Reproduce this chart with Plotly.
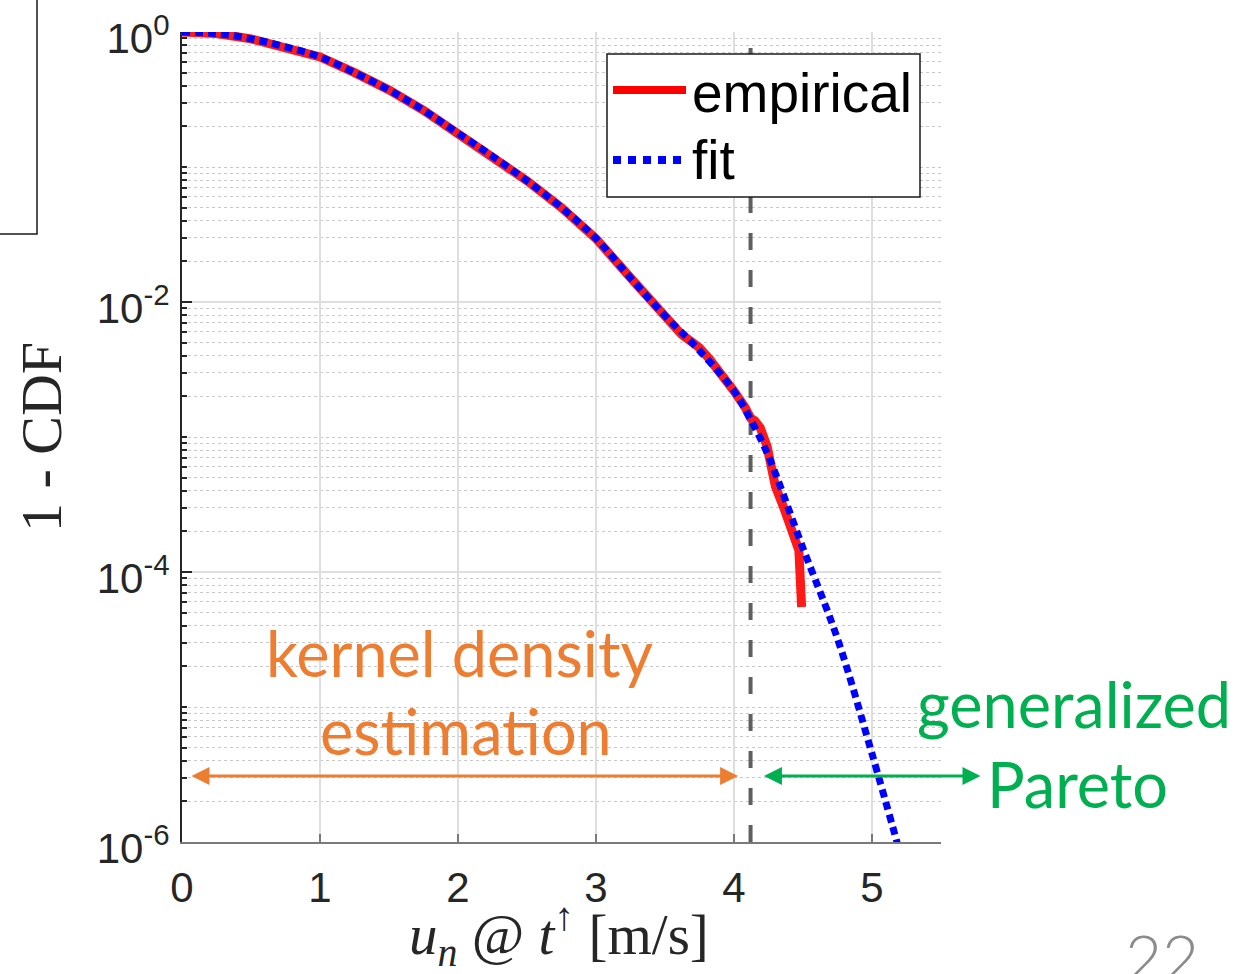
import numpy as np
import plotly.graph_objects as go

# ---- data -------------------------------------------------------------
# empirical survival function 1 - CDF of u_n at t-up
emp_x = [0.0, 0.25, 0.5, 0.75, 1.0, 1.25, 1.5, 1.75, 2.0, 2.25, 2.5, 2.75,
         3.0, 3.25, 3.5, 3.62, 3.7, 3.75, 3.82, 3.9, 4.0, 4.08, 4.12, 4.15,
         4.19, 4.24, 4.26, 4.30, 4.36, 4.43, 4.45, 4.47, 4.49]
emp_y = [1.0, 0.973, 0.89, 0.776, 0.653, 0.50, 0.372, 0.263, 0.178, 0.120,
         0.079, 0.050, 0.0295, 0.0151, 0.0079, 0.00575, 0.00501, 0.00457,
         0.0038, 0.00302, 0.00219, 0.00166, 0.00138, 0.00132, 0.00117,
         8.5e-4, 6.8e-4, 4.3e-4, 3.0e-4, 1.95e-4, 1.58e-4, 1.45e-4, 5.5e-5]

# fitted model: kernel density body + generalized Pareto tail
fit_x = [0.0, 0.25, 0.5, 0.75, 1.0, 1.25, 1.5, 1.75, 2.0, 2.25, 2.5, 2.75,
         3.0, 3.25, 3.5, 3.75, 4.0, 4.12, 4.25, 4.5, 4.75, 5.0, 5.2]
fit_y = [1.0, 0.973, 0.89, 0.776, 0.653, 0.50, 0.372, 0.263, 0.178, 0.120,
         0.079, 0.050, 0.0295, 0.0151, 0.0079, 0.00437, 0.00219, 0.00135,
         7.2e-4, 1.5e-4, 3.2e-5, 4.5e-6, 8.5e-7]

threshold_x = 4.12            # body / tail split
x_ticks = [0, 1, 2, 3, 4, 5]
y_ticks = [1e0, 1e-2, 1e-4, 1e-6]
y_tick_text = ["10<sup>0</sup>", "10<sup>-2</sup>", "10<sup>-4</sup>", "10<sup>-6</sup>"]
y_minor = [k * 10.0 ** d for d in range(-6, 0) for k in range(1, 10)
           if not (k == 1 and d % 2 == 0)]

kde_span = [0.058, 4.03]      # extent of the kernel density region arrow
gpd_span = [4.217, 5.797]     # extent of the generalized Pareto arrow
arrow_level = 3.08e-6

# ---- layout geometry ---------------------------------------------------
W, H = 1251, 974
ML, MR, MT, MB = 182, 310, 32, 132
X_RANGE = [0, 5.5]
Y_RANGE = [-6, 0]
PW, PH = W - ML - MR, H - MT - MB

ORANGE = "#ED7D31"
GREEN = "#00B050"
TICK_FONT = dict(family="Liberation Sans, Arial", size=42, color="#262626")
SERIF = "Liberation Serif, DejaVu Serif"


def px_to_paper_x(px):
    return (px - ML) / PW


def px_to_paper_y(py):
    return (H - MB - py) / PH


def py_to_log(py):
    return Y_RANGE[1] - (py - MT) / PH * (Y_RANGE[1] - Y_RANGE[0])


fig = go.Figure()

fig.add_trace(go.Scatter(
    x=[threshold_x, threshold_x], y=[1e-6, 1e0], mode="lines",
    line=dict(color="#5f5f5f", width=4, dash="17px,20px"),
    showlegend=False, hoverinfo="skip"))

fig.add_trace(go.Scatter(
    x=emp_x, y=emp_y, mode="lines", name="empirical",
    line=dict(color="#ff1a1a", width=9), showlegend=False))

fig.add_trace(go.Scatter(
    x=fit_x, y=fit_y, mode="lines", name="fit",
    line=dict(color="#0000ff", width=7, dash="8px,5px", shape="spline"),
    showlegend=False))

fig.update_xaxes(
    range=X_RANGE, tickvals=x_ticks, ticks="inside", ticklen=8, tickwidth=1.5,
    tickcolor="#7a7a7a", showline=True, linecolor="#7a7a7a", linewidth=2,
    showgrid=True, gridcolor="#dedede", gridwidth=1.5, zeroline=False,
    tickfont=TICK_FONT, ticklabelstandoff=8, automargin=False)

fig.update_yaxes(
    type="log", range=Y_RANGE, tickvals=y_ticks, ticktext=y_tick_text,
    ticks="inside", ticklen=10, tickwidth=1.5, tickcolor="#262626",
    showline=True, linecolor="#262626", linewidth=2,
    showgrid=True, gridcolor="#dedede", gridwidth=1.5, zeroline=False,
    tickfont=TICK_FONT, ticklabelstandoff=2, ticklabelshift=6, automargin=False,
    minor=dict(tickvals=y_minor, ticks="inside", ticklen=5, tickcolor="#262626",
               showgrid=True, griddash="dot", gridcolor="#c8c8c8", gridwidth=1),
    title=dict(text="1 - CDF", font=dict(family=SERIF, size=58, color="#262626"),
               standoff=16))

# ---- hand-built legend ------------------------------------------------
shapes = [
    dict(type="rect", xref="paper", yref="paper",
         x0=px_to_paper_x(607), x1=px_to_paper_x(920),
         y0=px_to_paper_y(197), y1=px_to_paper_y(54),
         line=dict(color="#1a1a1a", width=1.5), fillcolor="white", layer="above"),
    dict(type="line", xref="paper", yref="paper",
         x0=px_to_paper_x(613), x1=px_to_paper_x(686),
         y0=px_to_paper_y(90), y1=px_to_paper_y(90),
         line=dict(color="#ff0000", width=8), layer="above"),
    dict(type="line", xref="paper", yref="paper",
         x0=px_to_paper_x(613), x1=px_to_paper_x(686),
         y0=px_to_paper_y(160), y1=px_to_paper_y(160),
         line=dict(color="#0000ff", width=8, dash="8px,7px"), layer="above"),
    # edge of a neighbouring panel frame
    dict(type="path", xref="paper", yref="paper",
         path=f"M {px_to_paper_x(-5)},{px_to_paper_y(234)} L {px_to_paper_x(37)},{px_to_paper_y(234)} "
              f"L {px_to_paper_x(37)},{px_to_paper_y(-5)}",
         line=dict(color="#1a1a1a", width=1.5), layer="above"),
]

LEG_FONT = dict(family="Liberation Sans, Arial", size=55, color="#000000")
annotations = [
    dict(text="empirical", xref="paper", yref="paper", x=px_to_paper_x(690),
         y=px_to_paper_y(93), xanchor="left", yanchor="middle", showarrow=False, font=LEG_FONT),
    dict(text="fit", xref="paper", yref="paper", x=px_to_paper_x(690),
         y=px_to_paper_y(160), xanchor="left", yanchor="middle", showarrow=False, font=LEG_FONT),
    # x-axis title
    dict(text="<i>u<sub>n</sub></i> @ <i>t</i><sup>↑</sup> [m/s]", xref="paper", yref="paper",
         x=px_to_paper_x(559), y=px_to_paper_y(935), xanchor="center", yanchor="middle",
         showarrow=False, font=dict(family=SERIF, size=57, color="#262626")),
]

# ---- region labels and arrows -----------------------------------------
LBL = dict(family="Lato, Noto Sans", size=63)
annotations += [
    dict(text="kernel density", x=2.014, y=py_to_log(652), xref="x", yref="y",
         xanchor="center", yanchor="middle", showarrow=False, font=dict(**LBL, color=ORANGE)),
    dict(text="estimation", x=2.06, y=py_to_log(730), xref="x", yref="y",
         xanchor="center", yanchor="middle", showarrow=False, font=dict(**LBL, color=ORANGE)),
    dict(text="generalized", xref="paper", yref="paper", x=px_to_paper_x(1074),
         y=px_to_paper_y(703), xanchor="center", yanchor="middle",
         showarrow=False, font=dict(**LBL, color=GREEN)),
    dict(text="Pareto", xref="paper", yref="paper", x=px_to_paper_x(1077),
         y=px_to_paper_y(783), xanchor="center", yanchor="middle",
         showarrow=False, font=dict(**LBL, color=GREEN)),
    dict(text="", x=kde_span[1], y=np.log10(arrow_level), ax=kde_span[0], ay=np.log10(arrow_level),
         xref="x", yref="y", axref="x", ayref="y", showarrow=True, arrowside="end+start",
         arrowhead=2, arrowsize=1.2, arrowwidth=3, arrowcolor=ORANGE),
    dict(text="", x=gpd_span[0], y=np.log10(arrow_level), ax=gpd_span[1], ay=np.log10(arrow_level),
         xref="x", yref="y", axref="x", ayref="y", showarrow=True, arrowside="end+start",
         arrowhead=2, arrowsize=1.2, arrowwidth=3, arrowcolor=GREEN),
    # slide number
    dict(text="22", xref="paper", yref="paper", x=px_to_paper_x(1162), y=px_to_paper_y(916),
         xanchor="center", yanchor="top", showarrow=False,
         font=dict(family="Lato, Noto Sans", size=64, color="#8c8c8c", weight=300)),
]

fig.update_layout(
    width=W, height=H, margin=dict(l=ML, r=MR, t=MT, b=MB, autoexpand=False),
    paper_bgcolor="white", plot_bgcolor="white",
    shapes=shapes, annotations=annotations, showlegend=False)

fig.write_html("out.html")
